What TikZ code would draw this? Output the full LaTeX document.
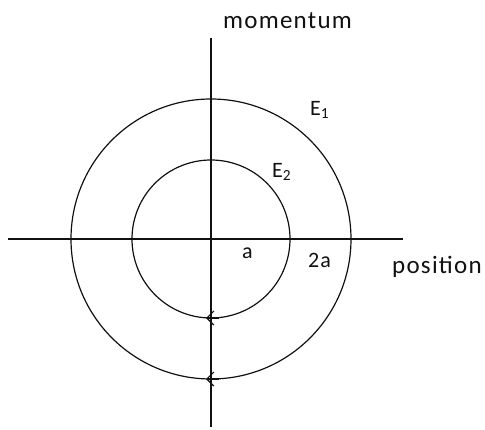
\documentclass[tikz,border=0pt]{standalone}
\usepackage{fontspec}
\setmainfont{Carlito}[LetterSpace=5.0]
\usepackage{tikz}
\usetikzlibrary{arrows.meta}
\definecolor{phaseink}{HTML}{111111}
\tikzset{
  axisline/.style={draw=phaseink, line width=1.3pt},
  orbit/.style={draw=phaseink, line width=1.2pt},
  lbl/.style={anchor=base west, inner sep=0pt, text=phaseink, font=\fontsize{25}{29}\selectfont},
  small lbl/.style={lbl, font=\fontsize{22}{26}\selectfont},
  flow/.style={orbit, -{Straight Barb[length=7pt,width=14pt]}}
}

\begin{document}
\begin{tikzpicture}[x=1pt,y=1pt]
\useasboundingbox (-211,-190) rectangle (274,239);
% axes
\coordinate (o) at (0,0);
\coordinate (xl) at (-203,0);
\coordinate (xr) at (192,0);
\coordinate (yt) at (0,201);
\coordinate (yb) at (0,-188);
\draw[axisline] (xl) -- (xr);
\draw[axisline] (yt) -- (yb);
% energy levels
\foreach \r/\name in {79/inner, 140/outer}
{
  \draw[orbit] (o) circle (\r);
  \coordinate (\name s) at (8,-\r);
  \coordinate (\name e) at (-5,-\r);
  \draw[flow] (\name s) -- (\name e);
}
\node[lbl] (mom) at (12,211) {momentum};
\node[lbl] (pos) at (181,-34) {position};
\node[small lbl] (eone) at (99,124) {E\textsubscript{1}};
\node[small lbl] (etwo) at (61,62) {E\textsubscript{2}};
\node[small lbl] (la) at (31,-19) {a};
\node[small lbl] (ltwoa) at (97,-28) {2a};
\end{tikzpicture}
\end{document}
